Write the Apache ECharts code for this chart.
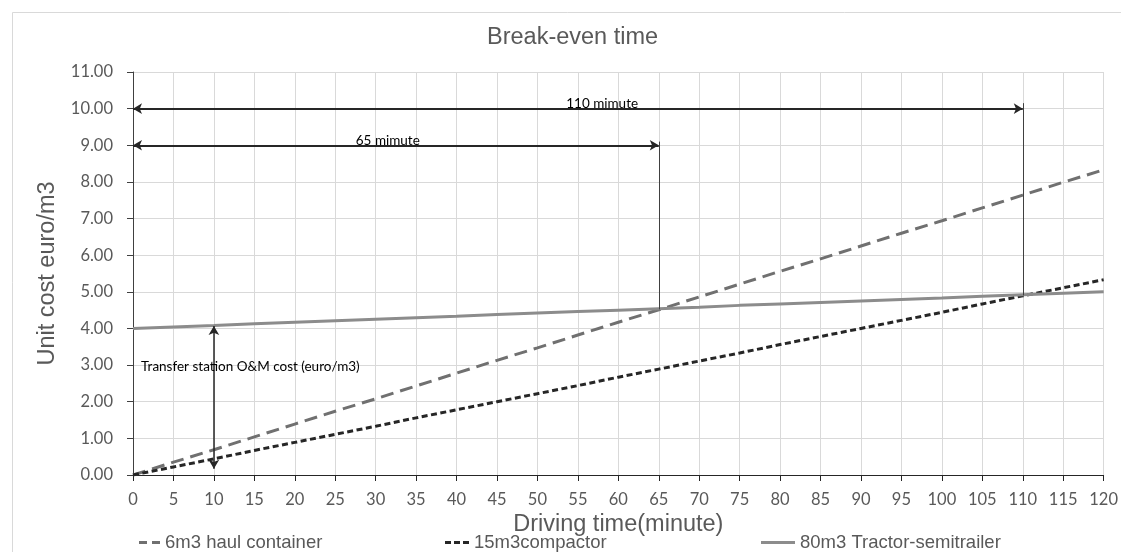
<!DOCTYPE html>
<html>
<head>
<meta charset="utf-8">
<script src="https://cdn.jsdelivr.net/npm/echarts@6/dist/echarts.min.js"></script>
<style>
html,body{margin:0;padding:0;background:#fff;}
#chart{width:1121px;height:552px;}
</style>
</head>
<body>
<div id="chart"></div>
<script>
// ---- data ----
const minutes = [0,5,10,15,20,25,30,35,40,45,50,55,60,65,70,75,80,85,90,95,100,105,110,115,120];
const haulContainer = [0,0.35,0.69,1.04,1.39,1.74,2.08,2.43,2.78,3.13,3.47,3.82,4.17,4.51,4.86,5.21,5.56,5.90,6.25,6.60,6.94,7.29,7.64,7.99,8.33];
const compactor = [0,0.22,0.44,0.67,0.89,1.11,1.33,1.56,1.78,2.00,2.22,2.44,2.67,2.89,3.11,3.33,3.56,3.78,4.00,4.22,4.44,4.67,4.89,5.11,5.33];
const semitrailer = [4.00,4.04,4.08,4.13,4.17,4.21,4.25,4.29,4.33,4.38,4.42,4.46,4.50,4.54,4.58,4.63,4.67,4.71,4.75,4.79,4.83,4.88,4.92,4.96,5.00];
const seriesNames = ['6m3 haul container','15m3compactor','80m3 Tractor-semitrailer'];

// annotations (data units)
const arrow110 = [[0,10],[110,10]];
const arrow65 = [[0,9],[65,9]];
const vline110 = [[110,10.15],[110,4.9]];
const vline65 = [[65,9.1],[65,4.52]];
const arrowOM = [[10,4.07],[10,0.17]];
const label110 = {text:'110 mimute', at:[58,10]};
const label65 = {text:'65 mimute', at:[31.5,9]};
const labelOM = {text:'Transfer station O&M cost (euro/m3)', at:[1.0,2.95]};

const pair = (arr) => arr.map((v,i)=>[minutes[i], v]);

const chart = echarts.init(document.getElementById('chart'));
const tickFont = 'Lato, "Open Sans", sans-serif';
const mainFont = '"Liberation Sans", Arial, sans-serif';
const legendText = {fontFamily:mainFont, fontSize:18.5, color:'#595959'};

const option = {
  backgroundColor:'#fff',
  animation:false,
  graphic:[{
    type:'rect', left:10, top:10,
    shape:{width:1125, height:560},
    style:{fill:'none', stroke:'#d9d9d9', lineWidth:1}
  }],
  title:{
    text:'Break-even time', left:482, top:21,
    textStyle:{fontFamily:mainFont, fontSize:23.5, fontWeight:'normal', color:'#595959'}
  },
  legend:[
    {data:[{name:seriesNames[0], icon:'path://M0,0h8v3h-8z M13,0h8v3h-8z'}],
     left:134, top:528, itemWidth:21, itemHeight:3, textStyle:legendText},
    {data:[{name:seriesNames[1], icon:'path://M0,0h6v3h-6z M9,0h6v3h-6z M18,0h6v3h-6z'}],
     left:440, top:528, itemWidth:24, itemHeight:3, textStyle:legendText},
    {data:[{name:seriesNames[2], icon:'path://M0,0h34v3h-34z'}],
     left:756, top:528, itemWidth:34, itemHeight:3, textStyle:legendText}
  ],
  grid:{left:133, right:14, top:72, bottom:77},
  xAxis:{
    type:'value', min:0, max:120, interval:5,
    name:'Driving time(minute)', nameLocation:'middle', nameGap:28,
    nameTextStyle:{fontFamily:mainFont, fontSize:23.5, color:'#595959'},
    axisLine:{lineStyle:{color:'#262626', width:1}},
    axisTick:{show:true, length:6, lineStyle:{color:'#262626'}},
    axisLabel:{fontFamily:tickFont, fontSize:16.5, color:'#595959', margin:16},
    splitLine:{show:true, lineStyle:{color:'#d9d9d9', width:1}}
  },
  yAxis:{
    type:'value', min:0, max:11, interval:1,
    name:'Unit cost euro/m3', nameLocation:'middle', nameGap:67,
    nameTextStyle:{fontFamily:mainFont, fontSize:23.5, color:'#595959'},
    axisLine:{show:true, lineStyle:{color:'#404040', width:1}},
    axisTick:{show:true, length:6, lineStyle:{color:'#404040'}},
    axisLabel:{fontFamily:tickFont, fontSize:16.5, color:'#595959', margin:20,
      formatter:(v)=>v.toFixed(2)},
    splitLine:{show:true, lineStyle:{color:'#d9d9d9', width:1}}
  },
  series:[
    {name:seriesNames[0], type:'line', symbol:'none', data:pair(haulContainer),
     lineStyle:{color:'#707070', width:3, type:[13,7]}, itemStyle:{color:'#707070'}},
    {name:seriesNames[1], type:'line', symbol:'none', data:pair(compactor),
     lineStyle:{color:'#262626', width:3, type:[6,3.5]}, itemStyle:{color:'#262626'}},
    {name:seriesNames[2], type:'line', symbol:'none', data:pair(semitrailer),
     lineStyle:{color:'#8c8c8c', width:3}, itemStyle:{color:'#8c8c8c'}, z:3},
    {name:'annotations', type:'line', symbol:'none', data:[], silent:true, z:4,
     markLine:{
       silent:true, animation:false,
       label:{show:false},
       emphasis:{disabled:true},
       data:[
         [{coord:arrow110[0], symbol:'arrow', symbolSize:[8,9], lineStyle:{color:'#262626', width:2, type:'solid'}},
          {coord:arrow110[1], symbol:'arrow', symbolSize:[8,9]}],
         [{coord:arrow65[0], symbol:'arrow', symbolSize:[8,9], lineStyle:{color:'#262626', width:2, type:'solid'}},
          {coord:arrow65[1], symbol:'arrow', symbolSize:[8,9]}],
         [{coord:vline110[0], symbol:'none', lineStyle:{color:'#404040', width:1, type:'solid'}},
          {coord:vline110[1], symbol:'none'}],
         [{coord:vline65[0], symbol:'none', lineStyle:{color:'#404040', width:1, type:'solid'}},
          {coord:vline65[1], symbol:'none'}],
         [{coord:arrowOM[0], symbol:'arrow', symbolSize:[8,9], lineStyle:{color:'#262626', width:1.5, type:'solid'}},
          {coord:arrowOM[1], symbol:'arrow', symbolSize:[8,9]}]
       ]
     },
     markPoint:{
       silent:true, symbol:'circle', symbolSize:0,
       data:[
         {coord:label110.at, label:{show:true, formatter:label110.text, position:'top', distance:-2,
           fontFamily:tickFont, fontSize:13.5, color:'#000'}},
         {coord:label65.at, label:{show:true, formatter:label65.text, position:'top', distance:-2,
           fontFamily:tickFont, fontSize:13.5, color:'#000'}},
         {coord:labelOM.at, label:{show:true, formatter:labelOM.text, position:'right', distance:0,
           fontFamily:tickFont, fontSize:13.5, color:'#000'}}
       ]
     }
    }
  ]
};
chart.setOption(option);
</script>
</body>
</html>
